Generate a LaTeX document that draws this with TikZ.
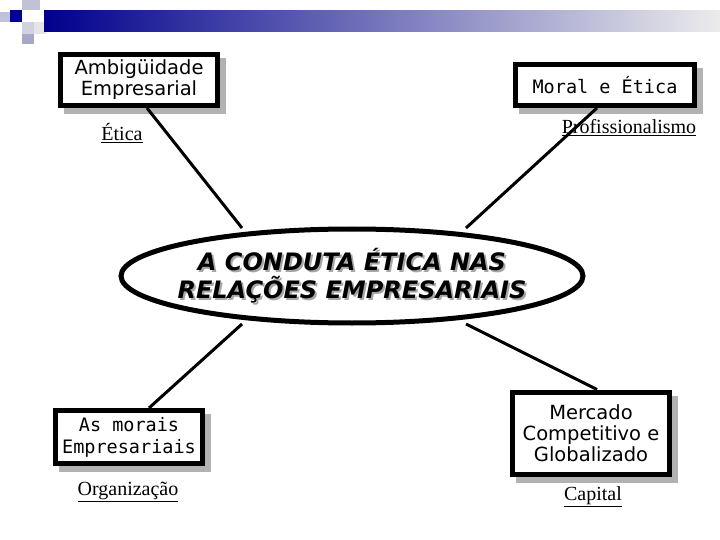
\documentclass[tikz,border=0pt]{standalone}
\usetikzlibrary{shapes.geometric}
\usepackage{fontspec}
\setmainfont{Liberation Serif}
\newfontfamily\vsans{DejaVu Sans}
\newfontfamily\vmono{DejaVu Sans Mono}
\begin{document}
\begin{tikzpicture}[x=1pt,y=-1pt,
  bx/.style={draw=black,line width=5pt,fill=white,inner sep=2pt,align=center,font=\vsans\fontsize{19.5}{21}\selectfont},
  bxm/.style={bx,font=\vmono\fontsize{18.5}{22}\selectfont},
  conn/.style={line width=3pt},
  lab/.style={font=\fontsize{20}{22}\selectfont}]
\useasboundingbox (0,0) rectangle (720,540);
% banner
\fill[blue!20!gray!40] (22,0) rectangle (40,10);
\fill[blue!20!gray!40] (0,12) rectangle (10,22);
\fill[blue!60!black] (10,10) rectangle (22,22);
\fill[blue!20!gray!30] (22,22) rectangle (34,34);
\fill[blue!25!gray!55] (22,34) rectangle (34,44);
\fill[gray!20] (34,22) rectangle (46,34);
\shade[left color=blue!55!black,right color=gray!15] (44,11) rectangle (720,32);
% shadows
\fill[gray!60] (64,58) rectangle (226,114);
\fill[gray!60] (519,68) rectangle (703,114);
\fill[gray!60] (59,414) rectangle (211,472);
\fill[gray!60] (516,396) rectangle (678,483);
\node[bx,minimum width=157pt,minimum height=51pt] (a) at (139,80) {Ambigüidade\\Empresarial};
\node[bxm,minimum width=179pt,minimum height=41pt] (m) at (605,85) {Moral e Ética};
\node[bxm,minimum width=147pt,minimum height=53pt] (p) at (129,437) {As morais\\Empresariais};
\node[bx,minimum width=157pt,minimum height=82pt] (c) at (591,433) {Mercado\\Competitivo e\\Globalizado};
\node[draw=black,line width=5pt,fill=white,ellipse,minimum width=462pt,minimum height=94pt] (e) at (352,276) {};
\node[text=gray!70,font=\vsans\bfseries\itshape\fontsize{24}{28}\selectfont,align=center] at (354,278) {A CONDUTA ÉTICA NAS\\RELAÇÕES EMPRESARIAIS};
\node[font=\vsans\bfseries\itshape\fontsize{24}{28}\selectfont,align=center] (t) at (352,276) {A CONDUTA ÉTICA NAS\\RELAÇÕES EMPRESARIAIS};
\draw[conn] (a.south) ++(8,0) coordinate (a1) -- (242,228);
\draw[conn] (m.south) ++(-8,0) coordinate (m1) -- (466,228);
\draw[conn] (p.north) ++(20,0) coordinate (p1) -- (242,324);
\draw[conn] (c.north) ++(6,0) coordinate (c1) -- (466,324);
\node[lab] (l1) at (122,133) {\underline{Ética}};
\node[lab] (l2) at (629,128) {\underline{Profissionalismo}};
\node[lab] (l3) at (128,492) {\underline{Organização}};
\node[lab] (l4) at (593,497) {\underline{Capital}};
\end{tikzpicture}
\end{document}
